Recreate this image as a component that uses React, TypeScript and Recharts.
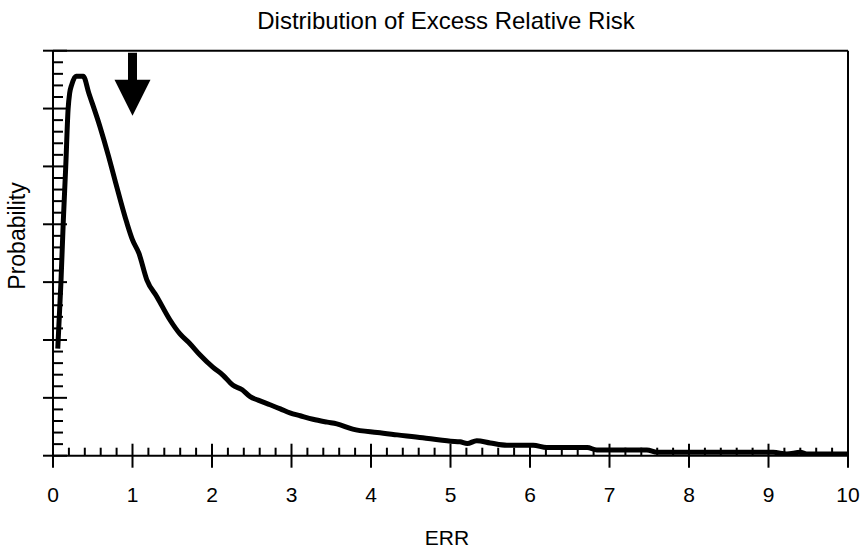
import { LineChart, Line, XAxis, YAxis, ReferenceLine, ReferenceDot } from 'recharts'

// ERR values along the curve and the matching probability density (arbitrary units)
const errValues = [
	0.06, 0.1, 0.13, 0.16, 0.19, 0.21, 0.235, 0.29, 0.38, 0.45, 0.59, 0.7, 0.78, 0.93, 1.0,
	1.08, 1.18, 1.31, 1.47, 1.6, 1.72, 1.85, 2.01, 2.14, 2.26, 2.38, 2.48, 2.58, 2.73, 2.86,
	2.98, 3.11, 3.27, 3.45, 3.57, 3.77, 4.08, 4.33, 4.65, 4.87, 5.0, 5.12, 5.21, 5.33, 5.5,
	5.71, 6.04, 6.21, 6.72, 6.84, 7.47, 7.6, 9.06, 9.23, 9.4, 9.48, 10.0,
]
const probValues = [
	1.85, 3.0, 4.07, 4.99, 5.99, 6.27, 6.41, 6.56, 6.56, 6.27, 5.69, 5.17, 4.76, 4.02, 3.73,
	3.5, 3.04, 2.74, 2.35, 2.1, 1.94, 1.74, 1.53, 1.39, 1.22, 1.14, 1.02, 0.96, 0.88, 0.81,
	0.74, 0.69, 0.63, 0.58, 0.55, 0.46, 0.4, 0.36, 0.31, 0.27, 0.25, 0.24, 0.21, 0.26, 0.22,
	0.18, 0.18, 0.14, 0.14, 0.1, 0.1, 0.06, 0.06, 0.03, 0.06, 0.03, 0.03,
]

const xMajor = [0, 1, 2, 3, 4, 5, 6, 7, 8, 9, 10]
const yMajor = [0, 1, 2, 3, 4, 5, 6, 7]
const arrowAt = 1

const data = errValues.map((err, i) => ({ err, prob: probValues[i] }))
// five subdivisions between each pair of major ticks
const withMinor = (major: number[]) =>
	major.flatMap((m, i) => (i === major.length - 1 ? [m] : [0, 0.2, 0.4, 0.6, 0.8].map(f => m + f)))
const xTicks = withMinor(xMajor)
const yTicks = withMinor(yMajor)

const FONT = '"Liberation Sans", Arial, Helvetica, sans-serif'
const isMajor = (v: number) => Math.abs(v - Math.round(v)) < 1e-6

const XTick = ({ x, y, payload }: any) => {
	const v = payload.value
	if (isMajor(v)) {
		return (
			<g>
				<line x1={x} x2={x} y1={y - 12} y2={y + 12} stroke="#000" strokeWidth={2} />
				<text x={x} y={y + 46} textAnchor="middle" fontSize={21} fontFamily={FONT} fill="#000">
					{Math.round(v)}
				</text>
			</g>
		)
	}
	return <line x1={x} x2={x} y1={y - 8} y2={y} stroke="#000" strokeWidth={2} />
}

const YTick = ({ x, y, payload }: any) => {
	const v = payload.value
	if (isMajor(v)) {
		return <line x1={x - 10} x2={x + 14} y1={y} y2={y} stroke="#000" strokeWidth={2} />
	}
	return <line x1={x} x2={x + 10} y1={y} y2={y} stroke="#000" strokeWidth={2} />
}

const Arrow = ({ cx, cy }: any) => (
	<path
		d={`M${cx - 4.5},${cy + 2} L${cx + 4.5},${cy + 2} L${cx + 4.5},${cy + 29} L${cx + 18},${cy + 29}
			L${cx},${cy + 65} L${cx - 18},${cy + 29} L${cx - 4.5},${cy + 29} Z`}
		fill="#000"
	/>
)

export default function App() {
	return (
		<div style={{ position: 'absolute', left: 0, top: 0, background: '#fff' }}>
			<LineChart
				width={864}
				height={549}
				data={data}
				margin={{ top: 50.7, right: 16, bottom: 33.3, left: 33 }}
			>
				<XAxis
					dataKey="err"
					type="number"
					domain={[0, 10]}
					ticks={xTicks}
					interval={0}
					tick={<XTick />}
					tickSize={0}
					tickMargin={0}
					height={60}
					axisLine={{ stroke: '#000', strokeWidth: 2 }}
					tickLine={false}
					allowDataOverflow
				/>
				<YAxis
					type="number"
					domain={[0, 7]}
					ticks={yTicks}
					interval={0}
					tick={<YTick />}
					tickSize={0}
					tickMargin={0}
					width={20}
					axisLine={{ stroke: '#000', strokeWidth: 2 }}
					tickLine={false}
					allowDataOverflow
				/>
				<ReferenceLine y={7} stroke="#000" strokeWidth={2} />
				<ReferenceLine x={10} stroke="#000" strokeWidth={2} />
				<Line
					type="monotone"
					dataKey="prob"
					stroke="#000"
					strokeWidth={5}
					strokeLinejoin="round"
					dot={false}
					isAnimationActive={false}
				/>
				<ReferenceDot x={arrowAt} y={7} r={0} shape={<Arrow />} />
				<text x={446} y={29} textAnchor="middle" fontSize={24} fontFamily={FONT} fill="#000">
					Distribution of Excess Relative Risk
				</text>
				<text x={447} y={545} textAnchor="middle" fontSize={21} fontFamily={FONT} fill="#000">
					ERR
				</text>
				<text
					x={25}
					y={236}
					textAnchor="middle"
					fontSize={23}
					fontFamily={FONT}
					fill="#000"
					transform="rotate(-90 25 236)"
				>
					Probability
				</text>
			</LineChart>
		</div>
	)
}
